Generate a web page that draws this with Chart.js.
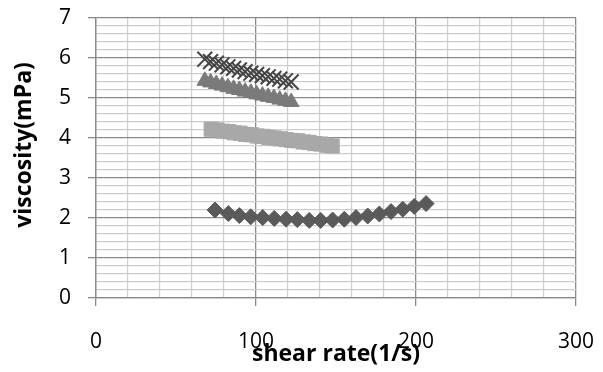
<!DOCTYPE html>
<html>
<head>
<meta charset="utf-8">
<script src="https://cdn.jsdelivr.net/npm/chart.js@4.4.1/dist/chart.umd.min.js"></script>
<style>
  html, body { margin: 0; padding: 0; background: #ffffff; }
  #wrap { width: 603px; height: 372px; position: relative; }
</style>
</head>
<body>
<div id="wrap"><canvas id="chart"></canvas></div>
<script>
// Shear-rate sweeps (1/s) and measured viscosity (mPa) for four samples
const rateLow = [68, 71.6, 75.2, 78.8, 82.4, 86, 89.6, 93.2, 96.8, 100.4, 104, 107.6, 111.2, 114.8, 118.4, 122];
const viscCross = [5.97, 5.91, 5.87, 5.83, 5.78, 5.74, 5.70, 5.66, 5.62, 5.59, 5.56, 5.53, 5.49, 5.47, 5.43, 5.40];
const viscTriangle = [5.43, 5.39, 5.35, 5.31, 5.27, 5.23, 5.20, 5.16, 5.13, 5.09, 5.06, 5.03, 5.00, 4.96, 4.93, 4.90];

const rateSquare = [72, 75.6, 79.2, 82.8, 86.4, 90, 93.6, 97.2, 100.8, 104.4, 108, 111.6, 115.2, 118.8, 122.4, 126, 129.6, 133.2, 136.8, 140.4, 144, 147.6];
const viscSquare = [4.22, 4.20, 4.17, 4.16, 4.13, 4.12, 4.09, 4.08, 4.05, 4.04, 4.01, 4.00, 3.98, 3.96, 3.94, 3.93, 3.90, 3.89, 3.86, 3.85, 3.82, 3.80];

const rateDiamond = [74.4, 82.7, 89.6, 96.7, 104.2, 111.4, 118.8, 125.8, 133.3, 140.4, 147.9, 155.2, 162.5, 169.8, 177.1, 184.4, 191.7, 198.9, 206.3];
const viscDiamond = [2.20, 2.11, 2.06, 2.03, 2.01, 1.99, 1.97, 1.96, 1.94, 1.94, 1.95, 1.97, 2.01, 2.05, 2.10, 2.16, 2.22, 2.29, 2.36];

// Axis ranges, grid steps and labelled values
const xMin = 0, xMax = 300, xMinorStep = 20, xMajorStep = 100;
const yMin = 0, yMax = 7, yMinorStep = 0.2, yMajorStep = 1;
const xTitle = 'shear rate(1/s)';
const yTitle = 'viscosity(mPa)';

const pairs = (xs, ys) => xs.map((x, i) => ({ x: x, y: ys[i] }));
const isMajor = (v, step) => Math.abs(v / step - Math.round(v / step)) < 1e-6;

const MAJOR = '#8a8a8a';
const MINOR = '#cdcdcd';
const FONT = "'Open Sans', 'Liberation Sans', sans-serif";

// Rotated y-axis title, placed a little above the plot's centre line
const yTitlePlugin = {
  id: 'yTitle',
  afterDraw(chart) {
    const ctx = chart.ctx;
    ctx.save();
    ctx.translate(24, 145);
    ctx.rotate(-Math.PI / 2);
    ctx.font = "bold 23px " + FONT;
    ctx.fillStyle = '#000000';
    ctx.textAlign = 'center';
    ctx.textBaseline = 'middle';
    ctx.fillText(yTitle, 0, 0);
    ctx.restore();
  }
};

new Chart(document.getElementById('chart'), {
  type: 'scatter',
  data: {
    datasets: [
      {
        label: 'X',
        data: pairs(rateLow, viscCross),
        pointStyle: 'crossRot',
        pointRadius: 10.5,
        borderColor: '#454545',
        backgroundColor: '#454545',
        pointBorderWidth: 2
      },
      {
        label: 'triangle',
        data: pairs(rateLow, viscTriangle),
        pointStyle: 'triangle',
        pointRadius: 9,
        borderColor: '#7a7a7a',
        backgroundColor: '#7a7a7a',
        pointBorderWidth: 1
      },
      {
        label: 'square',
        data: pairs(rateSquare, viscSquare),
        pointStyle: 'rect',
        pointRadius: 10,
        borderColor: '#a8a8a8',
        backgroundColor: '#a8a8a8',
        pointBorderWidth: 1
      },
      {
        label: 'diamond',
        data: pairs(rateDiamond, viscDiamond),
        pointStyle: 'rectRot',
        pointRadius: 8,
        borderColor: '#5a5a5a',
        backgroundColor: '#5a5a5a',
        pointBorderWidth: 1
      }
    ]
  },
  options: {
    responsive: true,
    maintainAspectRatio: false,
    animation: false,
    events: [],
    layout: { padding: { top: 18, right: 27, bottom: 0, left: 0 } },
    plugins: { legend: { display: false }, tooltip: { enabled: false } },
    scales: {
      x: {
        type: 'linear',
        min: xMin,
        max: xMax,
        afterFit: s => { s.height = 74; s.paddingLeft = 0; s.paddingRight = 0; },
        ticks: {
          stepSize: xMinorStep,
          autoSkip: false,
          maxRotation: 0,
          padding: 23,
          color: '#000000',
          font: { family: FONT, size: 21 },
          callback: v => isMajor(v, xMajorStep) ? String(v) : ''
        },
        grid: {
          color: c => (c.tick && isMajor(c.tick.value, xMajorStep)) ? MAJOR : MINOR,
          lineWidth: c => (c.tick && isMajor(c.tick.value, xMajorStep)) ? 1.3 : 1.2,
          tickLength: 8,
          tickColor: c => (c.tick && isMajor(c.tick.value, xMajorStep)) ? MAJOR : 'rgba(0,0,0,0)'
        },
        border: { color: MAJOR, width: 1.3 },
        title: {
          display: true,
          text: xTitle,
          color: '#000000',
          font: { family: FONT, size: 23, weight: 'bold' },
          padding: { top: 0, bottom: 4 }
        }
      },
      y: {
        type: 'linear',
        min: yMin,
        max: yMax,
        afterFit: s => { s.width = 96; s.paddingTop = 0; s.paddingBottom = 0; },
        ticks: {
          stepSize: yMinorStep,
          autoSkip: false,
          padding: 17,
          color: '#000000',
          font: { family: FONT, size: 21 },
          callback: v => isMajor(v, yMajorStep) ? String(Math.round(v)) : ''
        },
        grid: {
          color: c => (c.tick && isMajor(c.tick.value, yMajorStep)) ? MAJOR : MINOR,
          lineWidth: c => (c.tick && isMajor(c.tick.value, yMajorStep)) ? 1.3 : 1.2,
          tickLength: 8,
          tickColor: c => (c.tick && isMajor(c.tick.value, yMajorStep)) ? MAJOR : 'rgba(0,0,0,0)'
        },
        border: { color: MAJOR, width: 1.3 }
      }
    }
  },
  plugins: [yTitlePlugin]
});
</script>
</body>
</html>
